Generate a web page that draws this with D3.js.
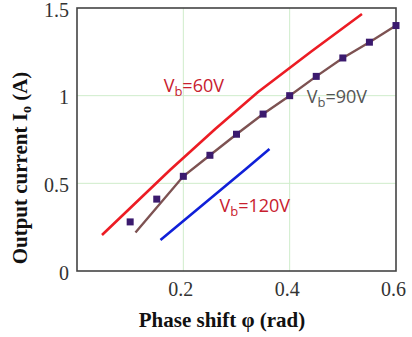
<!DOCTYPE html>
<html>
<head>
<meta charset="utf-8">
<script src="https://cdn.jsdelivr.net/npm/d3@7"></script>
<style>
  body { margin: 0; background: #fff; }
  svg { display: block; }
</style>
</head>
<body>
<div id="chart"></div>
<script>
// Data
const xTicks = [0.2, 0.4, 0.6];
const yTicks = [0, 0.5, 1, 1.5];
const gridX = [0.2, 0.4];
const gridY = [0.5, 1];

// Vb = 60V (red curve)
const red60 = [[0.047, 0.205], [0.175, 0.576], [0.26, 0.81], [0.34, 1.02], [0.44, 1.25], [0.536, 1.466]];
// Vb = 90V (brown curve)
const brown90 = [[0.11, 0.22], [0.2, 0.54], [0.25, 0.66], [0.3, 0.78], [0.35, 0.895], [0.4, 1.0],
                 [0.45, 1.11], [0.5, 1.215], [0.55, 1.305], [0.6, 1.40]];
// Vb = 90V measured points (squares)
const points90 = [[0.1, 0.28], [0.15, 0.41], [0.2, 0.54], [0.25, 0.66], [0.3, 0.78], [0.35, 0.895],
                  [0.4, 1.0], [0.45, 1.11], [0.5, 1.215], [0.55, 1.305], [0.6, 1.40]];
// Vb = 120V (blue curve)
const blue120 = [[0.157, 0.177], [0.317, 0.58], [0.362, 0.696]];

const labels = [
  { text: "60V", x: 0.163, y: 1.02, color: "#c8202e" },
  { text: "90V", x: 0.432, y: 0.96, color: "#555555" },
  { text: "120V", x: 0.268, y: 0.335, color: "#c8202e" }
];

const margin = { top: 8, right: 16, bottom: 66, left: 77 };
const W = 412, H = 337;
const width = W - margin.left - margin.right;
const height = H - margin.top - margin.bottom;

const serif = "'Liberation Serif', 'Times New Roman', serif";

const svg = d3.select("#chart")
    .append("svg")
    .attr("width", W)
    .attr("height", H)
    .append("g")
    .attr("transform", `translate(${margin.left},${margin.top})`);

const x = d3.scaleLinear().domain([0, 0.6]).range([0, width]);
const y = d3.scaleLinear().domain([0, 1.5]).range([height, 0]);

// Grid lines
svg.selectAll(".gx").data(gridX).enter().append("line")
    .attr("x1", d => x(d)).attr("x2", d => x(d))
    .attr("y1", 0).attr("y2", height)
    .attr("stroke", "#cfeccb").attr("stroke-width", 1);
svg.selectAll(".gy").data(gridY).enter().append("line")
    .attr("x1", 0).attr("x2", width)
    .attr("y1", d => y(d)).attr("y2", d => y(d))
    .attr("stroke", "#cfeccb").attr("stroke-width", 1);

// Axes (ticks hidden, labels only)
const xAxis = svg.append("g")
    .attr("transform", `translate(0,${height})`)
    .call(d3.axisBottom(x).tickValues(xTicks).tickSize(0).tickPadding(11).tickFormat(d3.format(".1f")));
xAxis.select(".domain").remove();
xAxis.selectAll("text")
    .attr("dx", "-3px")
    .style("font-family", serif)
    .style("font-size", "20px")
    .attr("fill", "#333");

const yAxis = svg.append("g")
    .call(d3.axisLeft(y).tickValues(yTicks).tickSize(0).tickPadding(8).tickFormat(d => d === 0 || d === 1 ? d : d3.format(".1f")(d)));
yAxis.select(".domain").remove();
yAxis.selectAll("text")
    .attr("dy", "0.4em")
    .style("font-family", serif)
    .style("font-size", "20px")
    .attr("fill", "#333");

// Frame
svg.append("rect")
    .attr("x", 0).attr("y", 0)
    .attr("width", width).attr("height", height)
    .attr("fill", "none")
    .attr("stroke", "#444")
    .attr("stroke-width", 1.6);

const line = d3.line()
    .x(d => x(d[0]))
    .y(d => y(d[1]));

svg.append("path").datum(red60)
    .attr("fill", "none").attr("stroke", "#ec1c24").attr("stroke-width", 2.6)
    .attr("d", line);

svg.append("path").datum(brown90)
    .attr("fill", "none").attr("stroke", "#7d5252").attr("stroke-width", 2.4)
    .attr("d", line);

svg.append("path").datum(blue120)
    .attr("fill", "none").attr("stroke", "#1020d8").attr("stroke-width", 2.6)
    .attr("d", line);

svg.selectAll(".pt").data(points90).enter().append("rect")
    .attr("x", d => x(d[0]) - 3.5)
    .attr("y", d => y(d[1]) - 3.5)
    .attr("width", 7).attr("height", 7)
    .attr("fill", "#3b1a6e");

// Curve labels: V_b=...
labels.forEach(l => {
    const t = svg.append("text")
        .attr("x", x(l.x)).attr("y", y(l.y))
        .attr("fill", l.color)
        .style("font-family", "'Open Sans', 'DejaVu Sans', sans-serif")
        .style("font-size", "18px");
    t.append("tspan").text("V");
    t.append("tspan").attr("dy", "4").style("font-size", "13px").text("b");
    t.append("tspan").attr("dy", "-4").text("=" + l.text);
});

// Axis titles
svg.append("text")
    .attr("x", 222 - margin.left)
    .attr("y", 327 - margin.top)
    .attr("text-anchor", "middle")
    .style("font-family", serif)
    .style("font-size", "21px")
    .style("font-weight", "bold")
    .attr("fill", "#111")
    .text("Phase shift φ (rad)");

const yt = svg.append("text")
    .attr("transform", `translate(${27 - margin.left},${168 - margin.top}) rotate(-90)`)
    .attr("text-anchor", "middle")
    .style("font-family", serif)
    .style("font-size", "21px")
    .style("font-weight", "bold")
    .attr("fill", "#111");
yt.append("tspan").text("Output current I");
yt.append("tspan").attr("dy", "4").style("font-size", "14px").text("o");
yt.append("tspan").attr("dy", "-4").text(" (A)");
</script>
</body>
</html>
